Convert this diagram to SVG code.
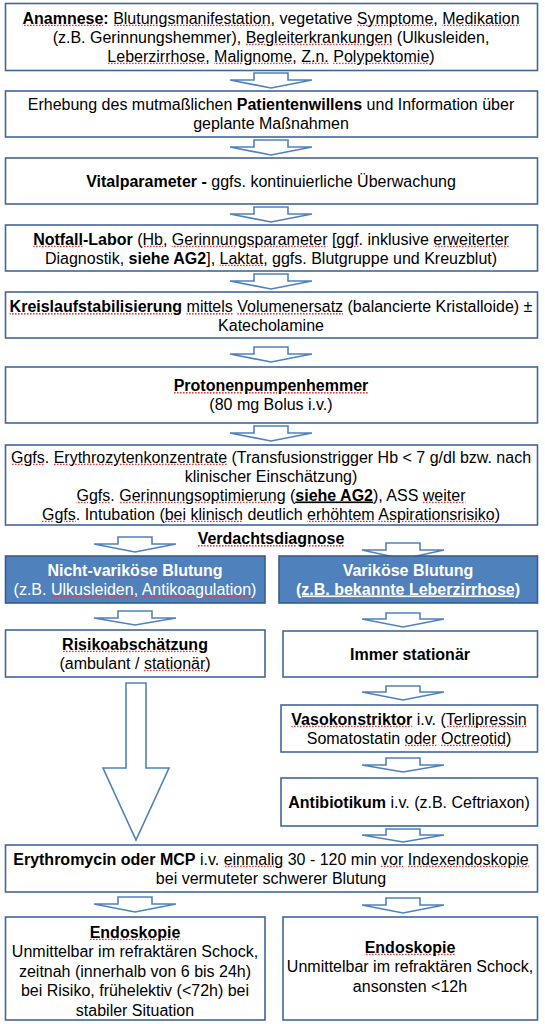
<svg xmlns="http://www.w3.org/2000/svg" xmlns:xlink="http://www.w3.org/1999/xlink" width="545" height="1024" viewBox="0 0 545 1024">
<style>
text{font-family:"Liberation Sans",Arial,sans-serif;font-size:16px;fill:var(--f,#000);text-anchor:middle}
.b{font-weight:bold}
text.w{fill:var(--f,#fff)}
.sq{text-decoration-line:var(--dec,none)}
.ul{text-decoration:underline}
.squ{--f:url(#dash);--dec:underline}
.box{fill:#fff;stroke:#41669c;stroke-width:1.6}
.bbox{fill:#4f81bd;stroke:#385d8a;stroke-width:1.6}
.arr{fill:#fff;stroke:#4f81bd;stroke-width:1.6;stroke-linejoin:miter}
</style>
<defs>
<pattern id="dash" patternUnits="userSpaceOnUse" x="0" y="0" width="3" height="1024">
<rect x="0" y="0" width="1.6" height="1024" fill="#e83c3c"/>
</pattern>
<clipPath id="bands" clipPathUnits="userSpaceOnUse">
<rect x="0" y="24.5" width="545" height="4"/>
<rect x="0" y="43.5" width="545" height="4"/>
<rect x="0" y="62.5" width="545" height="4"/>
<rect x="0" y="245.5" width="545" height="4"/>
<rect x="0" y="264.5" width="545" height="4"/>
<rect x="0" y="313" width="545" height="4"/>
<rect x="0" y="392" width="545" height="4"/>
<rect x="0" y="463.5" width="545" height="4"/>
<rect x="0" y="501.5" width="545" height="4"/>
<rect x="0" y="520.5" width="545" height="4"/>
<rect x="0" y="545" width="545" height="4"/>
<rect x="0" y="576.5" width="545" height="4"/>
<rect x="0" y="595.5" width="545" height="4"/>
<rect x="0" y="650.5" width="545" height="4"/>
<rect x="0" y="669.5" width="545" height="4"/>
<rect x="0" y="725.5" width="545" height="4"/>
<rect x="0" y="744.5" width="545" height="4"/>
<rect x="0" y="865.5" width="545" height="4"/>
<rect x="0" y="938.5" width="545" height="4"/>
<rect x="0" y="953.5" width="545" height="4"/>
</clipPath>
</defs>
<rect width="545" height="1024" fill="#fff"/>
<g id="connectors">
<path class="arr" d="M254,73H288V80H312L271,88L230,80H254Z"/>
<path class="arr" d="M254,140H288V147H312L271,155L230,147H254Z"/>
<path class="arr" d="M254,207H288V214H312L271,222L230,214H254Z"/>
<path class="arr" d="M254,274H288V281H312L271,289L230,281H254Z"/>
<path class="arr" d="M254,347H288V354H312L271,362L230,354H254Z"/>
<path class="arr" d="M254,426H288V433H312L271,441L230,433H254Z"/>
<path class="arr" d="M118,537H152V544H176L135,552L94,544H118Z"/>
<path class="arr" d="M386,543H420V550H444L403,559L362,550H386Z"/>
<path class="arr" d="M118,611H152V618H176L135,625L94,618H118Z"/>
<path class="arr" d="M386,613H420V619H444L403,627L362,619H386Z"/>
<path class="arr" d="M386,686H420V692H444L403,700L362,692H386Z"/>
<path class="arr" d="M386,758H420V765H444L403,772L362,765H386Z"/>
<path class="arr" d="M386,829H420V835H444L403,842L362,835H386Z"/>
<path class="arr" d="M126,683H146V768H169L136,840L103,768H126Z"/>
<path class="arr" d="M118,897H152V904H176L135,912L94,904H118Z"/>
<path class="arr" d="M386,898H420V905H444L403,913L362,905H386Z"/>
</g>
<g id="anamnese">
<rect class="box" x="5.5" y="3.5" width="532" height="67"/>
<use href="#t1a" class="squ" clip-path="url(#bands)"/>
<use href="#t1b" class="squ" clip-path="url(#bands)"/>
<use href="#t1c" class="squ" clip-path="url(#bands)"/>
<text id="t1a" x="271" y="23.5"><tspan class="b sq">Anamnese</tspan><tspan class="b">:</tspan> <tspan class="sq">Blutungsmanifestation</tspan>, vegetative <tspan class="sq">Symptome</tspan>, <tspan class="sq">Medikation</tspan></text>
<text id="t1b" x="271" y="42.5">(z.B. Gerinnungshemmer), <tspan class="sq">Begleiterkrankungen</tspan> (Ulkusleiden,</text>
<text id="t1c" x="271" y="61.5"><tspan class="sq">Leberzirrhose</tspan>, <tspan class="sq">Malignome</tspan>, <tspan class="sq">Z.n.</tspan> <tspan class="sq">Polypektomie</tspan>)</text>
</g>
<g id="patientenwille">
<rect class="box" x="5.5" y="91" width="532" height="46"/>
<text x="271" y="109.5">Erhebung des mutmaßlichen <tspan class="b">Patientenwillens</tspan> und Information über</text>
<text x="271" y="129">geplante Maßnahmen</text>
</g>
<g id="vitalparameter">
<rect class="box" x="5.5" y="158" width="532" height="46"/>
<text x="271" y="187"><tspan class="b">Vitalparameter -</tspan> ggfs. kontinuierliche Überwachung</text>
</g>
<g id="notfalllabor">
<rect class="box" x="5.5" y="225" width="532" height="46"/>
<use href="#t4a" class="squ" clip-path="url(#bands)"/>
<use href="#t4b" class="squ" clip-path="url(#bands)"/>
<text id="t4a" x="271" y="244.5"><tspan class="b"><tspan class="sq">Notfall</tspan>-Labor</tspan> (<tspan class="sq">Hb</tspan>, <tspan class="sq">Gerinnungsparameter</tspan> [<tspan class="sq">ggf</tspan>. inklusive <tspan class="sq">erweiterter</tspan></text>
<text id="t4b" x="271" y="263.5">Diagnostik, <tspan class="b">siehe AG2</tspan>], <tspan class="sq">Laktat</tspan>, ggfs. Blutgruppe und Kreuzblut)</text>
</g>
<g id="kreislauf">
<rect class="box" x="5.5" y="292" width="532" height="46"/>
<use href="#t5a" class="squ" clip-path="url(#bands)"/>
<text id="t5a" x="271" y="312"><tspan class="b sq">Kreislaufstabilisierung</tspan> <tspan class="sq">mittels</tspan> <tspan class="sq">Volumenersatz</tspan> (balancierte Kristalloide) ±</text>
<text x="271" y="331">Katecholamine</text>
</g>
<g id="ppi">
<rect class="box" x="5.5" y="367" width="532" height="56"/>
<use href="#t6a" class="squ" clip-path="url(#bands)"/>
<text id="t6a" x="271" y="391" class="b"><tspan class="sq">Protonenpumpenhemmer</tspan></text>
<text x="271" y="410">(80 mg Bolus i.v.)</text>
</g>
<g id="transfusion">
<rect class="box" x="5.5" y="445" width="532" height="80"/>
<use href="#t7a" class="squ" clip-path="url(#bands)"/>
<use href="#t7c" class="squ" clip-path="url(#bands)"/>
<use href="#t7d" class="squ" clip-path="url(#bands)"/>
<text id="t7a" x="271" y="462.5"><tspan class="sq">Ggfs</tspan>. <tspan class="sq">Erythrozytenkonzentrate</tspan> (Transfusionstrigger Hb &lt; 7 g/dl bzw. nach</text>
<text x="271" y="481.5">klinischer Einschätzung)</text>
<text id="t7c" x="271" y="500.5"><tspan class="sq">Ggfs</tspan>. <tspan class="sq">Gerinnungsoptimierung</tspan> (<tspan class="b ul">siehe AG2</tspan>), ASS <tspan class="sq">weiter</tspan></text>
<text id="t7d" x="271" y="519.5"><tspan class="sq">Ggfs</tspan>. Intubation (<tspan class="sq">bei</tspan> <tspan class="sq">klinisch</tspan> deutlich <tspan class="sq">erhöhtem</tspan> <tspan class="sq">Aspirationsrisiko</tspan>)</text>
</g>
<g id="verdachtsdiagnose">
<use href="#t8" class="squ" clip-path="url(#bands)"/>
<text id="t8" x="271" y="544" class="b"><tspan class="sq">Verdachtsdiagnose</tspan></text>
</g>
<g id="nichtvarikoes">
<rect class="bbox" x="5.5" y="556" width="259.5" height="47"/>
<use href="#t9a" class="squ" clip-path="url(#bands)"/>
<use href="#t9b" class="squ" clip-path="url(#bands)"/>
<text id="t9a" x="135" y="575.5" class="b w"><tspan class="sq">Nicht-variköse</tspan> <tspan class="sq">Blutung</tspan></text>
<text id="t9b" x="135" y="594.5" class="w">(z.B. <tspan class="sq">Ulkusleiden</tspan>, <tspan class="sq">Antikoagulation</tspan>)</text>
</g>
<g id="varikoes">
<rect class="bbox" x="279" y="556" width="258.5" height="47"/>
<use href="#t10a" class="squ" clip-path="url(#bands)"/>
<text id="t10a" x="408" y="575.5" class="b w"><tspan class="sq">Variköse</tspan> <tspan class="sq">Blutung</tspan></text>
<text x="408" y="594.5" class="b w"><tspan class="ul">(z.B. bekannte Leberzirrhose)</tspan></text>
</g>
<g id="risiko">
<rect class="box" x="5.5" y="630" width="259.5" height="47"/>
<use href="#t11a" class="squ" clip-path="url(#bands)"/>
<use href="#t11b" class="squ" clip-path="url(#bands)"/>
<text id="t11a" x="135" y="649.5" class="b"><tspan class="sq">Risikoabschätzung</tspan></text>
<text id="t11b" x="135" y="668.5">(ambulant / <tspan class="sq">stationär</tspan>)</text>
</g>
<g id="stationaer">
<rect class="box" x="283" y="631" width="254.5" height="46"/>
<text x="410" y="659.5" class="b">Immer stationär</text>
</g>
<g id="vasokonstriktor">
<rect class="box" x="281" y="705" width="256.5" height="47"/>
<use href="#t13a" class="squ" clip-path="url(#bands)"/>
<use href="#t13b" class="squ" clip-path="url(#bands)"/>
<text id="t13a" x="409" y="724.5"><tspan class="b sq">Vasokonstriktor</tspan> i.v. (<tspan class="sq">Terlipressin</tspan></text>
<text id="t13b" x="409" y="743.5">Somatostatin <tspan class="sq">oder</tspan> <tspan class="sq">Octreotid</tspan>)</text>
</g>
<g id="antibiotikum">
<rect class="box" x="281" y="778" width="256.5" height="48"/>
<text x="409" y="807.5"><tspan class="b">Antibiotikum</tspan> i.v. (z.B. Ceftriaxon)</text>
</g>
<g id="erythromycin">
<rect class="box" x="5.5" y="845" width="532" height="47"/>
<use href="#t15a" class="squ" clip-path="url(#bands)"/>
<text id="t15a" x="271" y="864.5"><tspan class="b">Erythromycin oder MCP</tspan> i.v. <tspan class="sq">einmalig</tspan> 30 - 120 min <tspan class="sq">vor</tspan> <tspan class="sq">Indexendoskopie</tspan></text>
<text x="271" y="883.5">bei vermuteter schwerer Blutung</text>
</g>
<g id="endoskopie-links">
<rect class="box" x="5.5" y="917" width="259.5" height="103"/>
<use href="#t16a" class="squ" clip-path="url(#bands)"/>
<text id="t16a" x="135" y="937.5" class="b"><tspan class="sq">Endoskopie</tspan></text>
<text x="135" y="957">Unmittelbar im refraktären Schock,</text>
<text x="135" y="976.5">zeitnah (innerhalb von 6 bis 24h)</text>
<text x="135" y="996">bei Risiko, frühelektiv (&lt;72h) bei</text>
<text x="135" y="1015.5">stabiler Situation</text>
</g>
<g id="endoskopie-rechts">
<rect class="box" x="283" y="917" width="254.5" height="103"/>
<use href="#t17a" class="squ" clip-path="url(#bands)"/>
<text id="t17a" x="410" y="952.5" class="b"><tspan class="sq">Endoskopie</tspan></text>
<text x="410" y="972">Unmittelbar im refraktären Schock,</text>
<text x="410" y="991.5">ansonsten &lt;12h</text>
</g>
</svg>
